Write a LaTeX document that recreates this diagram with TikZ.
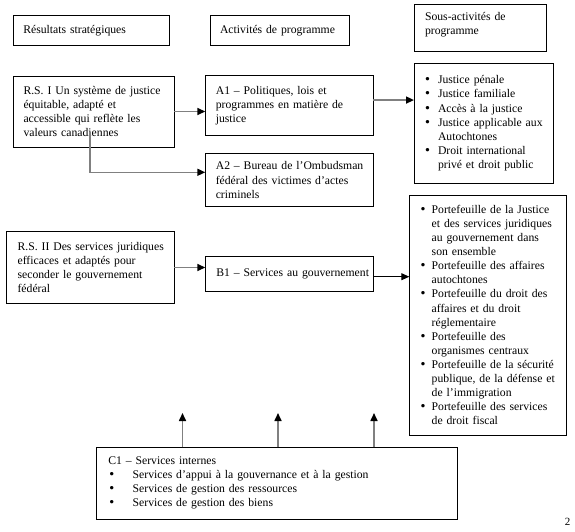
\documentclass[tikz,border=0pt]{standalone}
\usepackage{fontspec}
\setmainfont{Liberation Serif}
\newfontfamily\dejavu{DejaVu Sans}
\usetikzlibrary{arrows.meta}
\newcommand\bdot{{\dejavu\textbullet}}
\newcommand\Bl[3]{\mbox{\makebox[#1][l]{\hspace{#2}\bdot}#3}}
\newcommand\Cl[2]{\mbox{\hspace{#1}#2}}
\definecolor{lnk}{RGB}{128,128,128}
\begin{document}
\begin{tikzpicture}[x=1pt,y=-1pt,
  box/.style={draw=black,line width=0.9pt,rectangle,anchor=north west,align=left,
    inner ysep=0pt,outer sep=0pt,font=\fontsize{11.7}{14.1}\selectfont},
  garrow/.style={draw=lnk,line width=1.6pt,-{Triangle[length=8pt,width=7pt,color=black]}},
  barrow/.style={draw=black,line width=0.9pt,-{Triangle[length=8pt,width=7pt]}}]
\useasboundingbox (0,0) rectangle (575,532);

% headers
\node[box,minimum width=156.4pt,minimum height=29.3pt,inner xsep=10.3pt,text width=135.8pt] (hRS) at (13,15.7) {Résultats stratégiques};
\node[box,minimum width=139pt,minimum height=29.3pt,inner xsep=10pt,text width=119pt] (hAP) at (210,15.7) {\mbox{Activités de programme}};
\node[box,minimum width=132.4pt,minimum height=47.7pt,inner xsep=10.7pt,text width=111pt] (hSA) at (414.3,4) {Sous-activités de\\programme\par\vspace{7pt}\hrule height 0pt};

% strategic results
\node[box,minimum width=161.3pt,minimum height=71pt,inner xsep=10.5pt,text width=140.3pt] (RS1) at (13,76)
  {\mbox{R.S. I Un système de justice}\\\mbox{équitable, adapté et}\\\mbox{accessible qui reflète les}\\\mbox{valeurs canadiennes}};
\node[box,minimum width=167.7pt,minimum height=71.6pt,inner xsep=11pt,text width=145.7pt] (RS2) at (6.6,231.7)
  {\mbox{R.S. II Des services juridiques}\\\mbox{efficaces et adaptés pour}\\\mbox{seconder le gouvernement}\\\mbox{fédéral}};

% program activities
\node[box,minimum width=168pt,minimum height=59.3pt,inner xsep=10.5pt,text width=147pt] (A1) at (205.3,75.7)
  {\mbox{A1 – Politiques, lois et}\\\mbox{programmes en matière de}\\\mbox{justice}};
\node[box,minimum width=168pt,minimum height=53.4pt,inner xsep=10.5pt,text width=147pt] (A2) at (205.3,153.3)
  {\mbox{A2 – Bureau de l’Ombudsman}\\\mbox{fédéral des victimes d’actes}\\\mbox{criminels}};
\node[box,minimum width=168pt,minimum height=35pt,inner xsep=11pt,text width=146pt] (B1) at (205.3,256)
  {\mbox{B1 – Services au gouvernement}};

% sub-activities
\node[box,minimum width=139.3pt,minimum height=120pt,inner xsep=9pt,text width=121.3pt] (SA1) at (414,63.3)
  {\Bl{15pt}{1pt}{Justice pénale}\\
   \Bl{15pt}{1pt}{Justice familiale}\\
   \Bl{15pt}{1pt}{Accès à la justice}\\
   \Bl{15pt}{1pt}{Justice applicable aux}\\
   \Cl{15pt}{Autochtones}\\
   \Bl{15pt}{1pt}{Droit international}\\
   \Cl{15pt}{privé et droit public}};
\node[box,minimum width=156.7pt,minimum height=240pt,inner xsep=10pt,text width=136.7pt] (SA2) at (409.3,195)
  {\Bl{12.4pt}{0.3pt}{Portefeuille de la Justice}\\
   \Cl{12.4pt}{et des services juridiques}\\
   \Cl{12.4pt}{au gouvernement dans}\\
   \Cl{12.4pt}{son ensemble}\\
   \Bl{12.4pt}{0.3pt}{Portefeuille des affaires}\\
   \Cl{12.4pt}{autochtones}\\
   \Bl{12.4pt}{0.3pt}{Portefeuille du droit des}\\
   \Cl{12.4pt}{affaires et du droit}\\
   \Cl{12.4pt}{réglementaire}\\
   \Bl{12.4pt}{0.3pt}{Portefeuille des}\\
   \Cl{12.4pt}{organismes centraux}\\
   \Bl{12.4pt}{0.3pt}{Portefeuille de la sécurité}\\
   \Cl{12.4pt}{publique, de la défense et}\\
   \Cl{12.4pt}{de l’immigration}\\
   \Bl{12.4pt}{0.3pt}{Portefeuille des services}\\
   \Cl{12.4pt}{de droit fiscal}};

% internal services
\node[box,minimum width=360.3pt,minimum height=71.7pt,inner xsep=11.6pt,text width=337.1pt] (C1) at (96.7,447.3)
  {\mbox{C1 – Services internes}\\
   \Bl{24.4pt}{0pt}{Services d’appui à la gouvernance et à la gestion}\\
   \Bl{24.4pt}{0pt}{Services de gestion des ressources}\\
   \Bl{24.4pt}{0pt}{Services de gestion des biens}};

\node[font=\fontsize{11}{13}\selectfont,inner sep=0pt] (pg) at (567.6,522) {2};

% connectors
\coordinate (rsA) at (90,132);
\coordinate (t1) at (182.5,413);
\coordinate (t2) at (278,413);
\coordinate (t3) at (374,413);

\draw[garrow] (RS1.east) -- (RS1.east -| A1.west);
\draw[garrow] ([yshift=5.3pt]A1.east) -- ([yshift=5.3pt]A1.east -| SA1.west);
\draw[garrow] (rsA) |- ([yshift=7.7pt]A2.west);
\draw[garrow] (RS2.east) -- (RS2.east -| B1.west);
\draw[barrow] ([yshift=-3.2pt]B1.east) -- ([yshift=-3.2pt]B1.east -| SA2.west);
\draw[garrow] (C1.north -| t1) -- (t1);
\draw[garrow] (C1.north -| t2) -- (t2);
\draw[garrow] (C1.north -| t3) -- (t3);
\end{tikzpicture}
\end{document}
